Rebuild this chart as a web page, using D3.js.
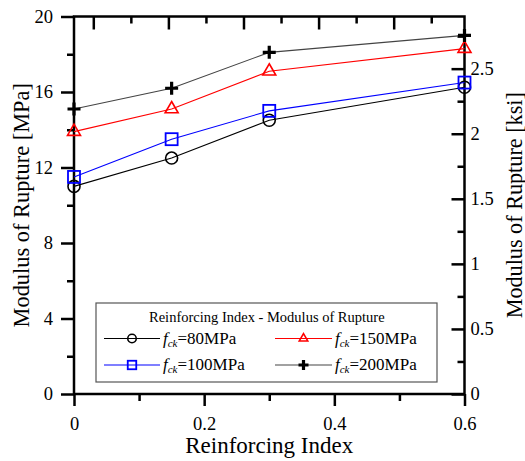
<!DOCTYPE html>
<html>
<head>
<meta charset="utf-8">
<script src="https://cdn.jsdelivr.net/npm/d3@7"></script>
<style>
  html, body { margin: 0; padding: 0; background: #fff; }
  svg { display: block; }
  svg text, svg tspan { font-family: "Liberation Serif", "Times New Roman", serif; }
</style>
</head>
<body>
<svg id="chart" width="525" height="461"></svg>
<script>
// Reinforcing index (x) against modulus of rupture (MPa) for four concrete strengths
const reinforcingIndex = [0, 0.15, 0.3, 0.6];
const mor80  = [11.0, 12.5, 14.5, 16.25];
const mor100 = [11.5, 13.5, 15.0, 16.5];
const mor150 = [13.9, 15.1, 17.1, 18.3];
const mor200 = [15.1, 16.2, 18.1, 19.0];

const seriesNames = ["80MPa", "100MPa", "150MPa", "200MPa"];

// axis ticks
const xMajor = [0, 0.2, 0.4, 0.6];
const xMinor = [0.1, 0.3, 0.5];
const yMajor = [0, 4, 8, 12, 16, 20];
const yMinor = [2, 6, 10, 14, 18];
const ksiMajor = [0, 0.5, 1, 1.5, 2, 2.5];
const ksiMinor = [0.25, 0.75, 1.25, 1.75, 2.25, 2.75];
const topMajor = [1, 2, 3, 4, 5];
const topMinor = [1.5, 2.5, 3.5, 4.5, 5.5];
const topDomain = [0.743, 5.943];
const MPA_TO_KSI = 0.145038;

const FONT = "Liberation Serif, Times New Roman, serif";

const svg = d3.select("#chart");
const L = 74, R = 464.5, T = 16.5, B = 394;

const x = d3.scaleLinear().domain([0, 0.6]).range([L, R]);
const y = d3.scaleLinear().domain([0, 20]).range([B, T]);
const yKsi = d3.scaleLinear().domain([0, 20 * MPA_TO_KSI]).range([B, T]);
const xTop = d3.scaleLinear().domain(topDomain).range([L, R]);

const AX_W = 2.5;

function styleAxis(g) {
  g.attr("font-family", FONT);
  g.select(".domain").remove();
  g.selectAll(".tick line").attr("stroke", "#000").attr("stroke-width", AX_W);
  g.selectAll(".tick text").attr("fill", "#000").attr("font-size", 18.5).attr("font-family", FONT);
}

// frame
svg.append("rect")
  .attr("x", L).attr("y", T).attr("width", R - L).attr("height", B - T)
  .attr("fill", "none").attr("stroke", "#000").attr("stroke-width", AX_W);

// bottom axis (outward ticks)
svg.append("g").attr("transform", `translate(0,${B})`)
  .call(d3.axisBottom(x).tickValues(xMajor).tickSize(12).tickPadding(11)
    .tickFormat(d => d === 0 ? "0" : d3.format(".1f")(d)))
  .call(styleAxis);
svg.append("g").attr("transform", `translate(0,${B})`)
  .call(d3.axisBottom(x).tickValues(xMinor).tickSize(7).tickFormat(""))
  .call(styleAxis);

// top axis (inward ticks, no labels)
svg.append("g").attr("transform", `translate(0,${T})`)
  .call(d3.axisTop(xTop).tickValues(topMajor).tickSize(-13).tickFormat(""))
  .call(styleAxis);
svg.append("g").attr("transform", `translate(0,${T})`)
  .call(d3.axisTop(xTop).tickValues(topMinor).tickSize(-7).tickFormat(""))
  .call(styleAxis);

// left axis, MPa (outward ticks)
svg.append("g").attr("transform", `translate(${L},0)`)
  .call(d3.axisLeft(y).tickValues(yMajor).tickSize(13).tickPadding(8).tickFormat(d3.format("d")))
  .call(styleAxis);
svg.append("g").attr("transform", `translate(${L},0)`)
  .call(d3.axisLeft(y).tickValues(yMinor).tickSize(7).tickFormat(""))
  .call(styleAxis);

// right axis, ksi (inward ticks)
svg.append("g").attr("transform", `translate(${R},0)`)
  .call(d3.axisRight(yKsi).tickValues(ksiMajor).tickSizeInner(-13).tickSizeOuter(0).tickPadding(6)
    .tickFormat(d => String(d)))
  .call(styleAxis);
svg.append("g").attr("transform", `translate(${R},0)`)
  .call(d3.axisRight(yKsi).tickValues(ksiMinor).tickSizeInner(-7).tickSizeOuter(0).tickFormat(""))
  .call(styleAxis);

// axis titles
svg.append("text").attr("x", (L + R) / 2).attr("y", 453).attr("font-family", FONT)
  .attr("text-anchor", "middle").attr("font-size", 23).text("Reinforcing Index");
svg.append("text").attr("transform", `translate(29,${(T + B) / 2}) rotate(-90)`).attr("font-family", FONT)
  .attr("text-anchor", "middle").attr("font-size", 22.4).text("Modulus of Rupture [MPa]");
svg.append("text").attr("transform", `translate(521.5,${(T + B) / 2}) rotate(-90)`).attr("font-family", FONT)
  .attr("text-anchor", "middle").attr("font-size", 22.2).text("Modulus of Rupture [ksi]");

// marker painters
function triPath(s) {
  const h = s * 0.866;
  return `M0,${-2 * h / 3}L${s / 2},${h / 3}L${-s / 2},${h / 3}Z`;
}
const markers = {
  circle: (g, s, c) => g.append("circle").attr("r", s / 2).attr("fill", "none").attr("stroke", c).attr("stroke-width", 1.6),
  square: (g, s, c) => g.append("rect").attr("x", -s / 2).attr("y", -s / 2).attr("width", s).attr("height", s)
    .attr("fill", "none").attr("stroke", c).attr("stroke-width", 1.8),
  triangle: (g, s, c) => g.append("path").attr("d", triPath(s)).attr("fill", "none").attr("stroke", c).attr("stroke-width", 1.6),
  plus: (g, s, c) => g.append("path").attr("d", `M${-s / 2},0H${s / 2}M0,${-s / 2}V${s / 2}`)
    .attr("stroke", c).attr("stroke-width", 3.2)
};

const series = [
  { name: seriesNames[0], values: mor80,  line: "#000", mark: "#000", shape: "circle",   size: 12 },
  { name: seriesNames[1], values: mor100, line: "#0000ff", mark: "#0000ff", shape: "square", size: 12 },
  { name: seriesNames[2], values: mor150, line: "#ff0000", mark: "#ff0000", shape: "triangle", size: 13 },
  { name: seriesNames[3], values: mor200, line: "#444", mark: "#000", shape: "plus", size: 13 }
];

const line = d3.line().x(d => x(d[0])).y(d => y(d[1]));

series.forEach(s => {
  const pts = reinforcingIndex.map((r, i) => [r, s.values[i]]);
  svg.append("path").datum(pts).attr("d", line)
    .attr("fill", "none").attr("stroke", s.line).attr("stroke-width", 1.1);
  pts.forEach(p => {
    const g = svg.append("g").attr("transform", `translate(${x(p[0])},${y(p[1])})`);
    markers[s.shape](g, s.size, s.mark);
  });
});

// legend
const lg = svg.append("g").attr("font-family", FONT);
lg.append("rect").attr("x", 96).attr("y", 303).attr("width", 341).attr("height", 79)
  .attr("fill", "#fff").attr("stroke", "#555").attr("stroke-width", 1.2);
lg.append("text").attr("x", 149).attr("y", 322).attr("font-size", 14.5)
  .text("Reinforcing Index - Modulus of Rupture");

const legendPos = [
  { x0: 104, x1: 160, row: 0 },
  { x0: 104, x1: 160, row: 1 },
  { x0: 275, x1: 332, row: 0 },
  { x0: 275, x1: 332, row: 1 }
];
const rowY = [338.5, 365];

series.forEach((s, i) => {
  const p = legendPos[i];
  const yy = rowY[p.row];
  lg.append("line").attr("x1", p.x0).attr("x2", p.x1).attr("y1", yy).attr("y2", yy)
    .attr("stroke", s.line).attr("stroke-width", 1.1);
  const g = lg.append("g").attr("transform", `translate(${(p.x0 + p.x1) / 2},${yy})`);
  markers[s.shape](g, s.shape === "plus" ? 10 : 8.5, s.mark);
  const t = lg.append("text").attr("x", p.x1 + 3).attr("y", yy + 5).attr("font-size", 17);
  t.append("tspan").attr("font-style", "italic").text("f");
  t.append("tspan").attr("font-style", "italic").attr("font-size", 11).attr("dy", 3).text("ck");
  t.append("tspan").attr("dy", -3).text("=" + s.name);
});
</script>
</body>
</html>
